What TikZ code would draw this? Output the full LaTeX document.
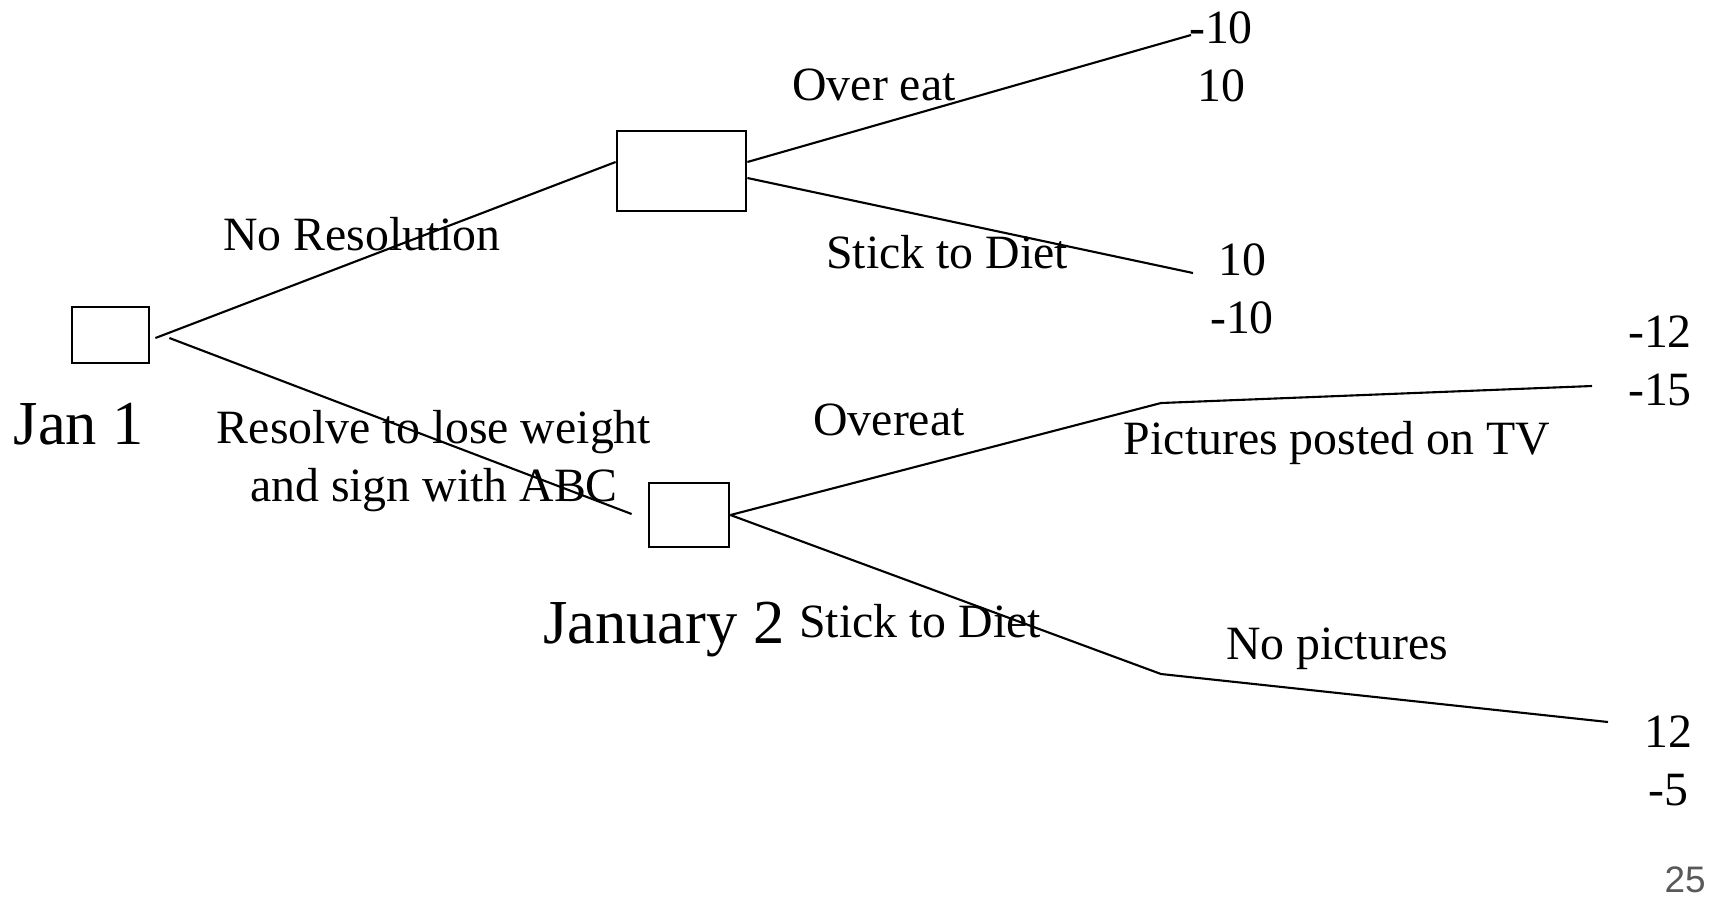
\documentclass[tikz,border=0pt]{standalone}
\usepackage{fontspec}
\setmainfont{Liberation Serif}
\setsansfont{Liberation Sans}
\usetikzlibrary{positioning}
\definecolor{pagegray}{HTML}{595959}

\tikzset{
  choice/.style={draw,line width=0.8pt,inner sep=0pt},
  branch/.style={line width=0.6pt},
  lbl/.style={inner sep=0pt,align=center,font=\fontsize{13.6}{16.3}\selectfont},
  pay/.style={inner sep=0pt,align=center,font=\fontsize{13.6}{16.5}\selectfont},
  datelbl/.style={inner sep=0pt,font=\fontsize{17.8}{21}\selectfont}
}

\begin{document}
\begin{tikzpicture}
  \useasboundingbox (0,0) rectangle (17.21,-8.97);
  % decision boxes
  \node[choice,minimum width=0.77cm,minimum height=0.56cm] (jan1) at (1.105,-3.35) {};
  \node[choice,minimum width=1.29cm,minimum height=0.80cm] (nores) at (6.815,-1.71) {};
  \node[choice,minimum width=0.80cm,minimum height=0.64cm] (resolve) at (6.89,-5.15) {};
  % free ends and bends
  \coordinate (overTip) at (11.91,-0.35);
  \coordinate (dietTip) at (11.93,-2.73);
  \coordinate (oeBend) at (11.61,-4.03);
  \coordinate (tvTip) at (15.92,-3.86);
  \coordinate (sdBend) at (11.61,-6.74);
  \coordinate (npTip) at (16.08,-7.22);
  % branches
  \draw[branch] ([shift={(0.05,-0.03)}]jan1.east) -- ([yshift=0.09cm]nores.west);
  \draw[branch] ([shift={(0.19,-0.03)}]jan1.east) -- ([shift={(-0.16,0.01)}]resolve.west);
  \draw[branch] ([yshift=0.09cm]nores.east) -- (overTip);
  \draw[branch] ([yshift=-0.07cm]nores.east) -- (dietTip);
  \draw[branch] (resolve.east) -- (oeBend) -- (tvTip);
  \draw[branch] (resolve.east) -- (sdBend) -- (npTip);
  % labels
  \node[datelbl] (jan1lbl) at (0.79,-4.24) {Jan 1};
  \node[datelbl] (jan2lbl) at (6.64,-6.30) {January 2};
  \node[lbl] (noreslbl) at (3.62,-2.34) {No Resolution};
  \node[lbl] (resolvelbl) at (4.34,-4.61) {Resolve to lose weight\\and sign with ABC};
  \node[lbl] (overlbl) at (8.74,-0.85) {Over eat};
  \node[lbl] (dietlbl) at (9.47,-2.52) {Stick to Diet};
  \node[lbl] (oelbl) at (8.89,-4.20) {Overeat};
  \node[lbl] (sdlbl) at (9.20,-6.21) {Stick to Diet};
  \node[lbl] (tvlbl) at (13.37,-4.43) {Pictures posted on TV};
  \node[lbl] (nplbl) at (13.37,-6.49) {No pictures};
  % payoffs
  \node[pay] (payOver) at (12.21,-0.565) {-10\\10};
  \node[pay] (payDiet) at (12.42,-2.89) {10\\-10};
  \node[pay] (payTV) at (16.60,-3.61) {-12\\-15};
  \node[pay] (payNP) at (16.68,-7.61) {12\\-5};
  % slide number
  \node[inner sep=0pt,text=pagegray,font=\sffamily\fontsize{10.5}{12}\selectfont] (pagenum) at (16.85,-8.80) {25};
\end{tikzpicture}
\end{document}
